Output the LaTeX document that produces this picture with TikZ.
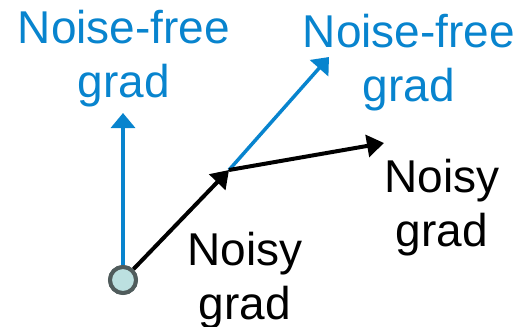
\documentclass[tikz,border=0pt]{standalone}
\usepackage{fontspec}
\setmainfont{Liberation Sans}
\usetikzlibrary{arrows.meta}
\definecolor{gradblue}{RGB}{8,132,206}
\definecolor{rimgray}{RGB}{80,92,92}
\definecolor{dotfill}{RGB}{188,224,224}
\begin{document}
\begin{tikzpicture}[x=1pt,y=-1pt,
  lbl/.style={align=center,inner sep=0pt,anchor=base,font=\fontsize{46}{54}\selectfont},
  clean/.style={lbl,text=gradblue},
  noisy/.style={lbl,text=black},
  cleanarrow/.style={draw=gradblue,line width=3.5pt,-{Triangle[length=15pt,width=24pt]}},
  noisyarrow/.style={draw=black,line width=4pt,-{Triangle[length=17pt,width=22pt]}},
  start/.style={circle,draw=rimgray,fill=dotfill,line width=4pt,minimum size=26pt,inner sep=0pt}]
\useasboundingbox (0,0) rectangle (520,327);
% points along the descent
\coordinate (mid) at (229,170);
\coordinate (cleanup) at (123,113);
\coordinate (cleanmid) at (329,57);
\coordinate (noisyend) at (384,143);
% labels (anchored at the baseline of their last line)
\node[clean] (l1) at (124,97) {Noise-free\\grad};
\node[clean] (l2) at (409,101) {Noise-free\\grad};
\node[noisy] (l3) at (442,246) {Noisy\\grad};
\node[noisy] (l4) at (245,319) {Noisy\\grad};
% gradient arrows
\node[start] (o) at (123,280) {};
\draw[cleanarrow] (o) -- (cleanup);
\draw[cleanarrow] (mid) -- (cleanmid);
\draw[noisyarrow] (o) -- (mid);
\draw[noisyarrow] (mid) -- (noisyend);
\node[start] at (o) {};
\end{tikzpicture}
\end{document}
